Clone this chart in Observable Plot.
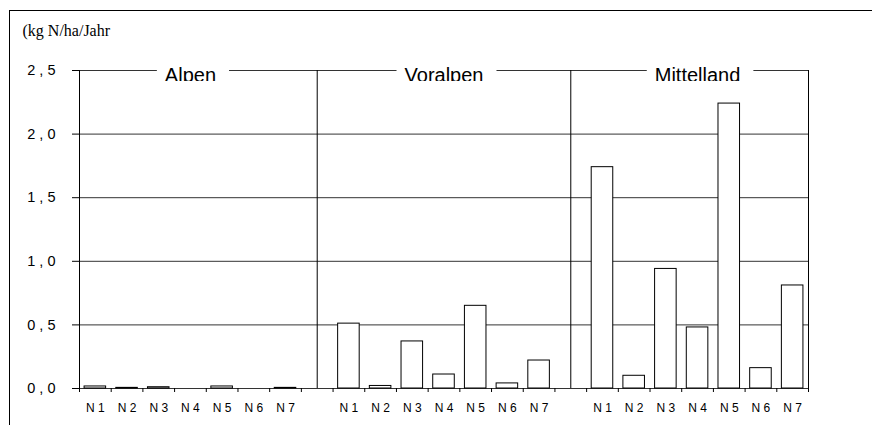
<!DOCTYPE html>
<html><head><meta charset="utf-8">
<script src="https://cdn.jsdelivr.net/npm/d3@7"></script>
<script src="https://cdn.jsdelivr.net/npm/@observablehq/plot@0.6"></script>
<style>
html,body{margin:0;padding:0;background:#fff;overflow:hidden;width:872px;height:425px}
#frame{position:absolute;left:9px;top:10px;width:1000px;height:1000px;border-left:1px solid #000;border-top:1px solid #000;pointer-events:none}
#chart{position:absolute;left:0;top:0}
</style></head><body>
<div id="chart"></div><div id="frame"></div>
<script>
const regions = ["Alpen", "Voralpen", "Mittelland"];
const categories = ["N1", "N2", "N3", "N4", "N5", "N6", "N7"];
const alpen = [0.016, 0.005, 0.01, 0, 0.016, 0, 0.005];
const voralpen = [0.51, 0.02, 0.37, 0.11, 0.65, 0.04, 0.22];
const mittelland = [1.74, 0.10, 0.94, 0.48, 2.24, 0.16, 0.81];
const yTicks = [0, 0.5, 1, 1.5, 2, 2.5];
const unitLabel = "(kg N/ha/Jahr";

const series = [alpen, voralpen, mittelland];
const slotsPerRegion = categories.length + 1;
const bars = regions.flatMap((r, ri) => categories.map((c, ci) => ({
  region: r, cat: c, slot: ri * slotsPerRegion + ci, value: series[ri][ci]
})));
const regionInfo = regions.map((r, ri) => ({region: r, center: ri * slotsPerRegion + categories.length / 2}));
const separators = regions.slice(1).map((r, ri) => (ri + 1) * slotsPerRegion - 0.5);
const xMax = regions.length * slotsPerRegion - 1;
const boundaries = d3.range(xMax + 1);
const yMax = yTicks[yTicks.length - 1];
const fmtY = d => d3.format(".1f")(d).replace(".", " , ");

const chart = Plot.plot({
  width: 872, height: 425,
  marginLeft: 79, marginRight: 64, marginTop: 70, marginBottom: 37,
  style: {fontFamily: "'Liberation Sans', Arial, sans-serif", background: "transparent", color: "#000"},
  x: {type: "linear", domain: [0, xMax]},
  y: {domain: [0, yMax]},
  marks: [
    Plot.ruleY(yTicks, {stroke: "#333", strokeWidth: 1}),
    Plot.rect(bars, {x1: d => d.slot + 0.16, x2: d => d.slot + 0.84, y1: 0, y2: "value", fill: "white", stroke: "#000", strokeWidth: 1}),
    Plot.ruleX(separators, {y1: 0, y2: yMax, stroke: "#000"}),
    Plot.ruleX([0, xMax], {y1: 0, y2: yMax, stroke: "#000"}),
    Plot.axisY({ticks: yTicks, tickSize: 7, tickPadding: 17, tickFormat: fmtY, fontSize: 14.5, label: null}),
    Plot.axisX({ticks: boundaries, tickSize: 4, tickFormat: () => "", label: null}),
    Plot.text(bars, {x: d => d.slot + 0.5, y: 0, text: d => d.cat.replace("N", "N "), dy: 20, fontSize: 12}),
    Plot.text(regionInfo, {x: "center", y: yMax, text: "region", fontSize: 20, lineAnchor: "bottom", dy: 11}),
    Plot.text([unitLabel], {text: d => d, frameAnchor: "top-left", textAnchor: "start", lineAnchor: "bottom", dx: -57, dy: -35, fontSize: 16, fontFamily: "'Liberation Serif', 'Times New Roman', serif"})
  ]
});
document.getElementById("chart").append(chart);

// white gaps behind the region labels and clipping of their descenders
const ns = "http://www.w3.org/2000/svg";
const yLine = chart.scale("y").apply(yMax);
const texts = [...chart.querySelectorAll("text")].filter(t => regions.includes(t.textContent));
if (texts.length) {
  const g = texts[0].parentNode;
  const defs = document.createElementNS(ns, "defs");
  const cp = document.createElementNS(ns, "clipPath");
  cp.setAttribute("id", "labelclip");
  const cr = document.createElementNS(ns, "rect");
  cr.setAttribute("x", 0); cr.setAttribute("y", 0);
  cr.setAttribute("width", 872); cr.setAttribute("height", yLine + 11);
  cp.appendChild(cr); defs.appendChild(cp); chart.insertBefore(defs, chart.firstChild);
  texts.forEach(t => {
    const bb = t.getBBox();
    const r = document.createElementNS(ns, "rect");
    r.setAttribute("x", bb.x - 8); r.setAttribute("y", bb.y);
    r.setAttribute("width", bb.width + 21); r.setAttribute("height", bb.height);
    r.setAttribute("fill", "white");
    const tr = t.getAttribute("transform"); if (tr) r.setAttribute("transform", tr);
    t.parentNode.insertBefore(r, t);
  });
  const wrap = document.createElementNS(ns, "g");
  g.parentNode.insertBefore(wrap, g);
  wrap.appendChild(g);
  wrap.setAttribute("clip-path", "url(#labelclip)");
}
</script>
</body></html>
